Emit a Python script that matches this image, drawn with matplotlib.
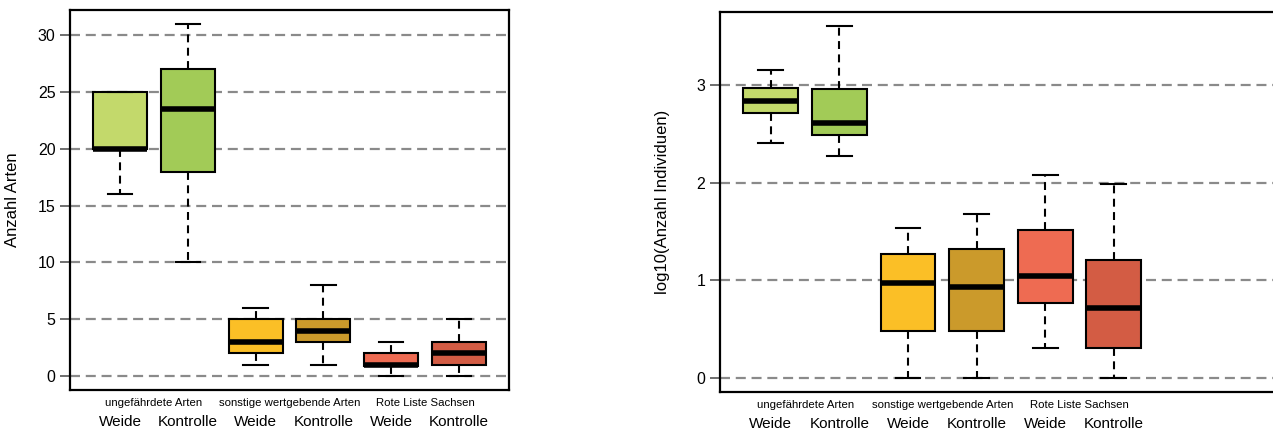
import numpy as np
import matplotlib
matplotlib.use("Agg")
import matplotlib.pyplot as plt
import matplotlib.transforms as mtransforms

plt.rcParams['font.family'] = ['Liberation Sans', 'DejaVu Sans']

# Kategorien und Beschriftungen
gruppen = ["ungefährdete Arten", "sonstige wertgebende Arten", "Rote Liste Sachsen"]
varianten = ["Weide", "Kontrolle", "Weide", "Kontrolle", "Weide", "Kontrolle"]
farben = ["#C3D96B", "#A2CB57", "#FBBF26", "#CB9A2B", "#EE6B52", "#D35C44"]

# Anzahl Arten (Boxplot-Kennwerte)
arten_min = [16, 10, 1, 1, 0, 0]
arten_q1 = [20, 18, 2, 3, 0.9, 1]
arten_med = [20, 23.5, 3, 4, 1, 2]
arten_q3 = [25, 27, 5, 5, 2, 3]
arten_max = [25, 31, 6, 8, 3, 5]
arten_ticks = [0, 5, 10, 15, 20, 25, 30]

# log10(Anzahl Individuen)
ind_min = [2.41, 2.27, 0, 0, 0.30, 0]
ind_q1 = [2.72, 2.49, 0.48, 0.48, 0.77, 0.30]
ind_med = [2.84, 2.61, 0.97, 0.93, 1.04, 0.71]
ind_q3 = [2.97, 2.96, 1.27, 1.32, 1.51, 1.21]
ind_max = [3.16, 3.61, 1.54, 1.68, 2.08, 1.99]
ind_ticks = [0, 1, 2, 3]


def boxstats(lo, q1, med, q3, hi):
    return [dict(whislo=a, q1=b, med=c, q3=d, whishi=e, fliers=[])
            for a, b, c, d, e in zip(lo, q1, med, q3, hi)]


def boxpanel(ax, stats, ticks, ylabel):
    pos = np.arange(1, len(stats) + 1)
    for t in ticks:
        ax.axhline(t, color="#8a8a8a", lw=1.6, ls=(0, (4.5, 2.6)), zorder=0)
    bp = ax.bxp(stats, positions=pos, widths=0.8, patch_artist=True,
                showfliers=False,
                boxprops=dict(edgecolor="black", linewidth=1.5),
                medianprops=dict(color="black", linewidth=4, solid_capstyle="butt"),
                whiskerprops=dict(color="black", linewidth=1.5, linestyle=(0, (3.8, 2.6))),
                capprops=dict(color="black", linewidth=1.5),
                capwidths=0.36)
    for patch, c in zip(bp["boxes"], farben):
        patch.set_facecolor(c)
        patch.set_zorder(2)
    ax.set_xticks([])
    ax.set_yticks(ticks)
    ax.tick_params(axis="y", labelsize=11.5, length=7, width=1.2, color="#555555")
    ax.set_ylabel(ylabel, fontsize=12)
    for s in ax.spines.values():
        s.set_linewidth(1.6)
    # Beschriftung unterhalb der Achse
    trans = mtransforms.blended_transform_factory(ax.transData, ax.transAxes)
    for p, v in zip(pos, varianten):
        ax.text(p, -0.085, v, transform=trans, ha="center", va="center", fontsize=11)
    for i, g in enumerate(gruppen):
        ax.text(pos[2 * i] + 0.5, -0.035, g, transform=trans, ha="center",
                va="center", fontsize=8.2)


fig = plt.figure(figsize=(12.73, 4.32), dpi=100)

ax1 = fig.add_axes([70 / 1273, 1 - 390 / 432, 439 / 1273, 380 / 432])
boxpanel(ax1, boxstats(arten_min, arten_q1, arten_med, arten_q3, arten_max),
         arten_ticks, "Anzahl Arten")
ax1.set_xlim(0.26, 6.74)
ax1.set_ylim(-1.24, 32.24)
ax1.yaxis.set_label_coords(-0.115, 0.5)

ax2 = fig.add_axes([720 / 1273, 1 - 391.7 / 432, 575 / 1273, 380 / 432])
boxpanel(ax2, boxstats(ind_min, ind_q1, ind_med, ind_q3, ind_max),
         ind_ticks, "log10(Anzahl Individuen)")
ax2.set_xlim(0.26, 0.26 + 575 / 68.6)
ax2.set_ylim(-0.144, 3.755)
ax2.yaxis.set_label_coords(-0.087, 0.5)

fig.savefig("out.png", dpi=100)
